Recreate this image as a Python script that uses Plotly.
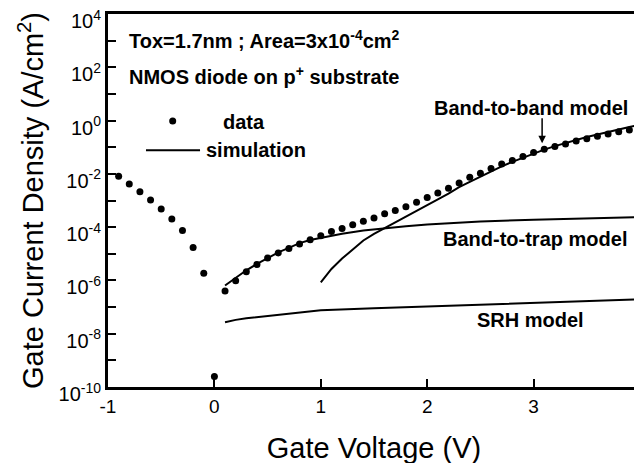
import numpy as np
import plotly.graph_objects as go

# ---- data (log10 of current density, A/cm^2) ----
data_v = [-0.9, -0.8, -0.7, -0.6, -0.5, -0.4, -0.3, -0.2, -0.1, 0.0,
          0.1, 0.2, 0.3, 0.4, 0.5, 0.6, 0.7, 0.8, 0.9, 1.0,
          1.1, 1.2, 1.3, 1.4, 1.5, 1.6, 1.7, 1.8, 1.9, 2.0,
          2.1, 2.2, 2.3, 2.4, 2.5, 2.6, 2.7, 2.8, 2.9, 3.0,
          3.1, 3.2, 3.3, 3.4, 3.5, 3.6, 3.7, 3.8, 3.9, 4.0]
data_logj = [-2.09, -2.38, -2.67, -2.98, -3.32, -3.69, -4.13, -4.76, -5.73, -9.61,
             -6.40, -6.01, -5.67, -5.40, -5.16, -4.97, -4.80, -4.63, -4.47, -4.32,
             -4.16, -4.05, -3.91, -3.78, -3.66, -3.50, -3.38, -3.23, -3.07, -2.89,
             -2.72, -2.54, -2.34, -2.13, -1.98, -1.80, -1.63, -1.50, -1.35, -1.20,
             -1.08, -0.97, -0.88, -0.77, -0.68, -0.59, -0.50, -0.42, -0.35, -0.28]

b2t_v = [0.1, 0.2, 0.3, 0.4, 0.5, 0.6, 0.7, 0.8, 0.9, 1.0, 1.2, 1.4, 1.6, 1.8,
         2.0, 2.5, 3.0, 3.5, 4.0]
b2t_logj = [-6.19, -5.90, -5.62, -5.38, -5.15, -4.95, -4.78, -4.60, -4.48, -4.40,
            -4.25, -4.13, -4.04, -3.97, -3.90, -3.79, -3.72, -3.66, -3.62]

srh_v = [0.1, 0.2, 0.3, 0.5, 1.0, 1.5, 2.0, 2.5, 3.0, 3.5, 4.0]
srh_logj = [-7.57, -7.48, -7.42, -7.33, -7.12, -7.04, -6.97, -6.90, -6.83, -6.77, -6.71]

b2b_v = [1.0, 1.1, 1.2, 1.3, 1.4, 1.5, 1.6, 1.7, 1.8, 1.9, 2.0,
         2.1, 2.2, 2.3, 2.4, 2.5, 2.6, 2.7, 2.8, 2.9, 3.0,
         3.1, 3.2, 3.3, 3.4, 3.5, 3.6, 3.7, 3.8, 3.9, 4.0]
b2b_logj = [-6.07, -5.57, -5.18, -4.83, -4.50, -4.25, -4.04, -3.82, -3.60, -3.38, -3.17,
            -2.96, -2.74, -2.50, -2.30, -2.10, -1.91, -1.72, -1.55, -1.39, -1.24,
            -1.09, -0.96, -0.84, -0.73, -0.62, -0.52, -0.42, -0.33, -0.24, -0.15]

x_ticks = [-1, 0, 1, 2, 3, 4]
y_exps = list(range(-10, 5))

FONT = "Liberation Sans, Arial, sans-serif"

fig = go.Figure()

line_style = dict(color="black", width=2)
for xs, ys in [(b2t_v, b2t_logj), (srh_v, srh_logj), (b2b_v, b2b_logj)]:
    fig.add_trace(go.Scatter(x=xs, y=10 ** np.array(ys), mode="lines",
                             line=line_style, showlegend=False, hoverinfo="skip"))

fig.add_trace(go.Scatter(x=data_v, y=10 ** np.array(data_logj), mode="markers",
                         marker=dict(color="black", size=7), showlegend=False,
                         cliponaxis=False))

tickvals = [10.0 ** e for e in y_exps]
ticktext = [f"10<sup>{e}</sup>" if e % 2 == 0 else "" for e in y_exps]

fig.update_xaxes(range=[-1, 4], tickvals=x_ticks, ticktext=[str(t) for t in x_ticks],
                 showline=True, linewidth=3, linecolor="black", mirror=True,
                 ticks="inside", ticklen=8, tickwidth=2, tickcolor="black",
                 showgrid=False, zeroline=False, automargin=False,
                 ticklabeloverflow="allow",
                 tickfont=dict(family=FONT, size=19, color="black"),
                 title=dict(text="Gate Voltage (V)", font=dict(family=FONT, size=29, color="black"),
                            standoff=27))
fig.update_yaxes(type="log", range=[-10, 4], tickvals=tickvals, ticktext=ticktext,
                 showline=True, linewidth=3, linecolor="black", mirror=True,
                 ticks="inside", ticklen=8, tickwidth=2, tickcolor="black",
                 showgrid=False, zeroline=False, automargin=False,
                 ticklabeloverflow="allow", ticklabelshift=7,
                 tickfont=dict(family=FONT, size=20, color="black"),
                 title=dict(text="Gate Current Density (A/cm<sup>2</sup>)",
                            font=dict(family=FONT, size=29, color="black"), standoff=7))

bold = dict(family=FONT, size=20, color="black")
ann = [
    dict(x=-0.82, y=3.04, text="<b>Tox=1.7nm ; Area=3x10<sup>-4</sup>cm<sup>2</sup></b>", xanchor="left"),
    dict(x=-0.82, y=1.68, text="<b>NMOS diode on p<sup>+</sup> substrate</b>", xanchor="left"),
    dict(x=0.063, y=-0.05, text="<b>data</b>", xanchor="left"),
    dict(x=-0.097, y=-1.09, text="<b>simulation</b>", xanchor="left"),
    dict(x=2.98, y=0.48, text="<b>Band-to-band model</b>", xanchor="center"),
    dict(x=3.01, y=-4.43, text="<b>Band-to-trap model</b>", xanchor="center"),
    dict(x=2.97, y=-7.47, text="<b>SRH model</b>", xanchor="center"),
]
for a in ann:
    fig.add_annotation(xref="x", yref="y", showarrow=False, yanchor="middle",
                       font=bold, **a)

# arrow pointing to band-to-band curve
fig.add_annotation(xref="x", yref="y", x=3.08, y=-0.85, ax=3.08, ay=0.14,
                   axref="x", ayref="y", text="", showarrow=True,
                   arrowhead=2, arrowsize=1, arrowwidth=1.5, arrowcolor="black")

# legend samples (paper coordinates)
fig.add_shape(type="line", xref="paper", yref="paper", x0=0.0714, x1=0.173,
              y0=0.635, y1=0.635, line=dict(color="black", width=2))
fig.add_shape(type="circle", xref="paper", yref="paper",
              x0=0.1216 - 0.0066, x1=0.1216 + 0.0066,
              y0=0.713 - 0.0094, y1=0.713 + 0.0094,
              fillcolor="black", line=dict(color="black", width=0))

# the page adds a small body margin, so the figure is sized to end at the window edge
fig.update_layout(width=636, height=456, margin=dict(l=100, r=4, t=6, b=77),
                  plot_bgcolor="white", paper_bgcolor="white",
                  font=dict(family=FONT, color="black"))

fig.write_html("out.html")
